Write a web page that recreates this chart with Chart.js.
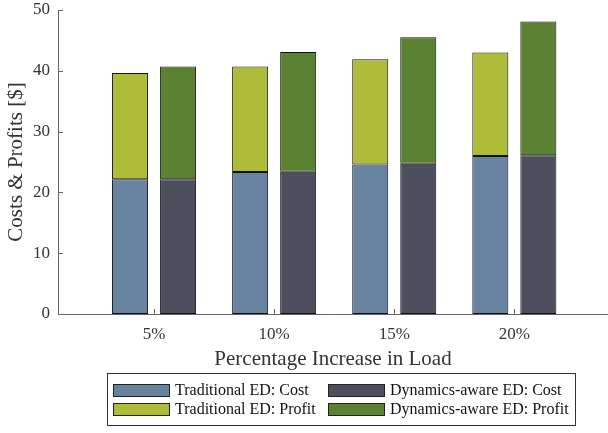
<!DOCTYPE html>
<html>
<head>
<meta charset="utf-8">
<script src="https://cdn.jsdelivr.net/npm/chart.js@4.4.1/dist/chart.umd.min.js"></script>
<style>
  html, body { margin: 0; padding: 0; background: #fff; }
  #wrap { width: 608px; height: 433px; }
</style>
</head>
<body>
<div id="wrap"><canvas id="costChart" width="608" height="433"></canvas></div>
<script>
// load increase scenarios and stacked cost / profit per dispatch method
const loadSteps = ['5%', '10%', '15%', '20%'];
const tradCost = [22.15, 23.35, 24.6, 26.0];
const tradProfit = [17.5, 17.35, 17.3, 17.0];
const dynCost = [22.15, 23.4, 24.7, 26.1];
const dynProfit = [18.55, 19.7, 20.8, 22.0];
const yTicks = [0, 10, 20, 30, 40, 50];

const SERIF = "'Liberation Serif', 'DejaVu Serif', serif";
Chart.defaults.font.family = SERIF;
Chart.defaults.color = '#333';

const pts = arr => arr.map((v, i) => ({x: i, y: v}));

// short tick marks drawn inside the plot area
const innerTicks = {
  id: 'innerTicks',
  afterDatasetsDraw(chart) {
    const {ctx, chartArea: {left, bottom}, scales: {x, y}} = chart;
    ctx.save();
    ctx.strokeStyle = '#666';
    ctx.lineWidth = 1;
    ctx.beginPath();
    yTicks.forEach(v => {
      const py = Math.round(y.getPixelForValue(v)) + 0.5;
      ctx.moveTo(left, py);
      ctx.lineTo(left + 5, py);
    });
    loadSteps.forEach((s, i) => {
      const px = Math.round(x.getPixelForValue(i)) + 0.5;
      ctx.moveTo(px, bottom);
      ctx.lineTo(px, bottom - 5);
    });
    ctx.stroke();
    ctx.restore();
  }
};

// two-column boxed legend below the axis title
const gridLegend = {
  id: 'gridLegend',
  afterDraw(chart) {
    const {ctx} = chart;
    const ds = chart.data.datasets;
    const order = [[0, 2], [1, 3]];
    const colX = [113, 328];
    const rowY = [384, 403];
    ctx.save();
    ctx.strokeStyle = '#333';
    ctx.lineWidth = 1;
    ctx.strokeRect(107.5, 373.5, 468, 52);
    ctx.font = '16px ' + SERIF;
    ctx.textBaseline = 'middle';
    order.forEach((row, r) => {
      row.forEach((di, c) => {
        const d = ds[di];
        ctx.fillStyle = d.backgroundColor;
        ctx.fillRect(colX[c], rowY[r], 57, 13);
        ctx.strokeStyle = '#222';
        ctx.strokeRect(colX[c] + 0.5, rowY[r] + 0.5, 56, 12);
        ctx.fillStyle = '#111';
        ctx.fillText(d.label, colX[c] + 62, rowY[r] + 7);
      });
    });
    ctx.restore();
  }
};

new Chart(document.getElementById('costChart'), {
  type: 'bar',
  data: {
    datasets: [
      {label: 'Traditional ED: Cost', data: pts(tradCost), stack: 'trad', backgroundColor: '#68839f'},
      {label: 'Traditional ED: Profit', data: pts(tradProfit), stack: 'trad', backgroundColor: '#afbc3a'},
      {label: 'Dynamics-aware ED: Cost', data: pts(dynCost), stack: 'dyn', backgroundColor: '#4d4f5e'},
      {label: 'Dynamics-aware ED: Profit', data: pts(dynProfit), stack: 'dyn', backgroundColor: '#5b8233'}
    ]
  },
  options: {
    responsive: false,
    animation: false,
    devicePixelRatio: 1,
    layout: {padding: {top: 10, right: 0, bottom: 61, left: 0}},
    datasets: {
      bar: {
        borderColor: '#111',
        borderWidth: 1,
        borderSkipped: false,
        categoryPercentage: 0.8,
        barPercentage: 0.75
      }
    },
    plugins: {
      legend: {display: false},
      tooltip: {enabled: false}
    },
    scales: {
      x: {
        type: 'linear',
        stacked: true,
        offset: false,
        min: -0.8,
        max: 3.78,
        afterBuildTicks: (scale) => { scale.ticks = loadSteps.map((s, i) => ({value: i})); },
        afterFit: (scale) => {
          scale.height = 58;
          scale.paddingLeft = 0;
          scale.paddingRight = 0;
        },
        grid: {display: false, drawTicks: false},
        border: {display: true, color: '#666', width: 1},
        ticks: {
          padding: 10,
          font: {size: 17},
          callback: (v) => loadSteps[v]
        },
        title: {
          display: true,
          text: 'Percentage Increase in Load',
          font: {size: 21},
          padding: {top: 0, bottom: 0}
        }
      },
      y: {
        stacked: true,
        min: 0,
        max: 50,
        afterBuildTicks: (scale) => { scale.ticks = yTicks.map(v => ({value: v})); },
        afterFit: (scale) => {
          scale.width = 58;
          scale.paddingTop = 0;
          scale.paddingBottom = 0;
        },
        grid: {display: false, drawTicks: false},
        border: {display: true, color: '#666', width: 1},
        ticks: {padding: 8, font: {size: 17}},
        title: {
          display: true,
          text: 'Costs & Profits [$]',
          font: {size: 21},
          padding: {top: 4, bottom: 0}
        }
      }
    }
  },
  plugins: [innerTicks, gridLegend]
});
</script>
</body>
</html>
